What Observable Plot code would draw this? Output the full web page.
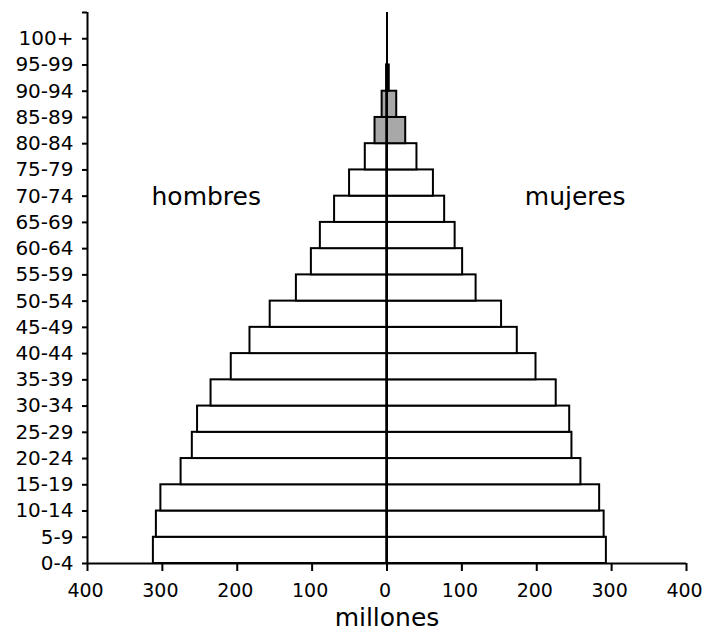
<!DOCTYPE html>
<html>
<head>
<meta charset="utf-8">
<script src="https://cdn.jsdelivr.net/npm/d3@7"></script>
<script src="https://cdn.jsdelivr.net/npm/@observablehq/plot@0.6"></script>
<style>
  html, body { margin: 0; padding: 0; background: white; }
</style>
</head>
<body>
<div id="chart"></div>
<script>
const ages = ["0-4","5-9","10-14","15-19","20-24","25-29","30-34","35-39","40-44","45-49","50-54","55-59","60-64","65-69","70-74","75-79","80-84","85-89","90-94","95-99","100+"];
const hombres = [312, 308, 302, 275, 260, 253, 235, 208, 183, 156, 121, 101, 89, 70, 50, 29, 16, 6.5, 0.5, 0, 0];
const mujeres = [293, 290, 284, 259, 247, 244, 226, 199, 174, 153, 119, 101, 91, 77, 62, 40, 25, 13, 3, 0, 0];
const destacados = ["80-84", "85-89", "90-94"];
const xTicks = [-400, -300, -200, -100, 0, 100, 200, 300, 400];

const rows = ages.flatMap((age, i) => [
  {age, i, sexo: "hombres", v: -hombres[i], gris: destacados.includes(age)},
  {age, i, sexo: "mujeres", v: mujeres[i], gris: destacados.includes(age)}
]);

const chart = Plot.plot({
  width: 703,
  height: 636,
  marginTop: 12,
  marginBottom: 73,
  marginLeft: 87,
  marginRight: 17,
  style: {fontFamily: "DejaVu Sans", fontSize: "20px", color: "black", background: "white"},
  x: {domain: [-400, 400]},
  y: {domain: [0, ages.length]},
  marks: [
    Plot.rectX(rows.filter(d => !d.gris), {x1: 0, x2: "v", y1: "i", y2: d => d.i + 1, fill: "white", stroke: "black", strokeWidth: 2}),
    Plot.rectX(rows.filter(d => d.gris), {x1: 0, x2: "v", y1: "i", y2: d => d.i + 1, fill: "#a8a8a8", stroke: "black", strokeWidth: 2}),
    Plot.ruleX([0], {stroke: "black", strokeWidth: 2}),
    Plot.ruleX([-400], {stroke: "black", strokeWidth: 2}),
    Plot.ruleY([0], {stroke: "black", strokeWidth: 2}),
    Plot.axisY({ticks: d3.range(0, ages.length + 1), tickFormat: i => ages[i] ?? "", tickSize: 5, tickPadding: 9, strokeWidth: 2, label: null}),
    Plot.axisX({ticks: xTicks, tickSize: 8, strokeWidth: 2, text: null, label: null}),
    Plot.axisX({ticks: xTicks, tickFormat: d => Math.abs(d), tickSize: 0, tickPadding: 20, dx: -2, fontSize: 19, label: null}),
    Plot.text(["hombres"], {frameAnchor: "top-left", dx: 64, dy: 175, textAnchor: "start", fontSize: 25}),
    Plot.text(["mujeres"], {frameAnchor: "top-right", dx: -61, dy: 175, textAnchor: "end", fontSize: 25}),
    Plot.text(["millones"], {frameAnchor: "bottom", dy: 62, fontSize: 25})
  ]
});
document.getElementById("chart").appendChild(chart);
</script>
</body>
</html>
